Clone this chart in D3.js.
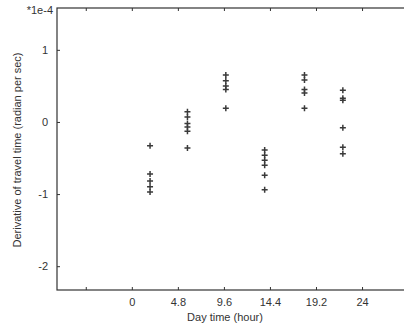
<!DOCTYPE html>
<html><head><meta charset="utf-8">
<script src="https://cdn.jsdelivr.net/npm/d3@7"></script>
<style>body{margin:0;background:#fff;}svg{display:block;font-family:"Liberation Sans",Arial,sans-serif;}</style>
</head><body>
<svg id="c" width="404" height="328"></svg>
<script>
// Data (hours, derivative in 1e-4 rad/s)
const clusterHours = [1.9, 5.8, 9.8, 13.85, 18.0, 22.0];
const clusterValues = [
  [-0.33, -0.72, -0.82, -0.90, -0.97],
  [0.14, 0.07, -0.02, -0.07, -0.13, -0.36],
  [0.65, 0.57, 0.50, 0.45, 0.19],
  [-0.39, -0.46, -0.53, -0.60, -0.74, -0.94],
  [0.65, 0.58, 0.45, 0.40, 0.19],
  [0.44, 0.33, 0.30, -0.08, -0.35, -0.44]
];
const xTicks = [-4.8, 0, 4.8, 9.6, 14.4, 19.2, 24, 28.8];
const xTickLabels = ["", "0", "4.8", "9.6", "14.4", "19.2", "24", ""];
const yTicks = [1, 0, -1, -2];
const yTickLabels = ["1", "0", "-1", "-2"];

const svg = d3.select("#c");
const ink = "#333";
const x = d3.scaleLinear().domain([-7.8, 29]).range([57, 410]);
const y = d3.scaleLinear().domain([-2.33, 1.58]).range([290, 8]);

// frame
svg.append("rect").attr("x", 57).attr("y", 8).attr("width", 353).attr("height", 282)
  .attr("fill", "none").attr("stroke", ink).attr("stroke-width", 1.2);

const xb = d3.axisBottom(x).tickValues(xTicks).tickSize(-3).tickPadding(8)
  .tickFormat((d, i) => xTickLabels[i]);
const gx = svg.append("g").attr("transform", "translate(0,290)").call(xb);
const xt = d3.axisTop(x).tickValues(xTicks).tickSize(-3).tickFormat("");
const gxt = svg.append("g").attr("transform", "translate(0,8)").call(xt);
const yl = d3.axisLeft(y).tickValues(yTicks).tickSize(-3).tickPadding(9)
  .tickFormat((d, i) => yTickLabels[i]);
const gy = svg.append("g").attr("transform", "translate(57,0)").call(yl);
[gx, gxt, gy].forEach(g => {
  g.select(".domain").remove();
  g.selectAll("line").attr("stroke", ink);
  g.selectAll("text").attr("fill", ink).style("font-size", "11px")
    .style("font-family", "'Liberation Sans',Arial,sans-serif");
});

svg.append("text").attr("x", 53).attr("y", 14).attr("text-anchor", "end")
  .attr("fill", ink).style("font-size", "11px").text("*1e-4");
svg.append("text").attr("x", 225).attr("y", 321).attr("text-anchor", "middle")
  .attr("fill", ink).style("font-size", "11px").text("Day time (hour)");
svg.append("text").attr("transform", "translate(21,150) rotate(-90)")
  .attr("text-anchor", "middle").attr("fill", ink).style("font-size", "11px")
  .text("Derivative of travel time (radian per sec)");

// points
const pts = [];
clusterHours.forEach((h, i) => clusterValues[i].forEach(v => pts.push({h, v})));
const s = 3;
svg.append("g").selectAll("path").data(pts).join("path")
  .attr("d", d => {
    const cx = x(d.h), cy = y(d.v);
    return `M${cx - s},${cy}H${cx + s}M${cx},${cy - s}V${cy + s}`;
  })
  .attr("stroke", "#3a3a3a").attr("stroke-width", 1.5).attr("fill", "none");
</script>
</body></html>
